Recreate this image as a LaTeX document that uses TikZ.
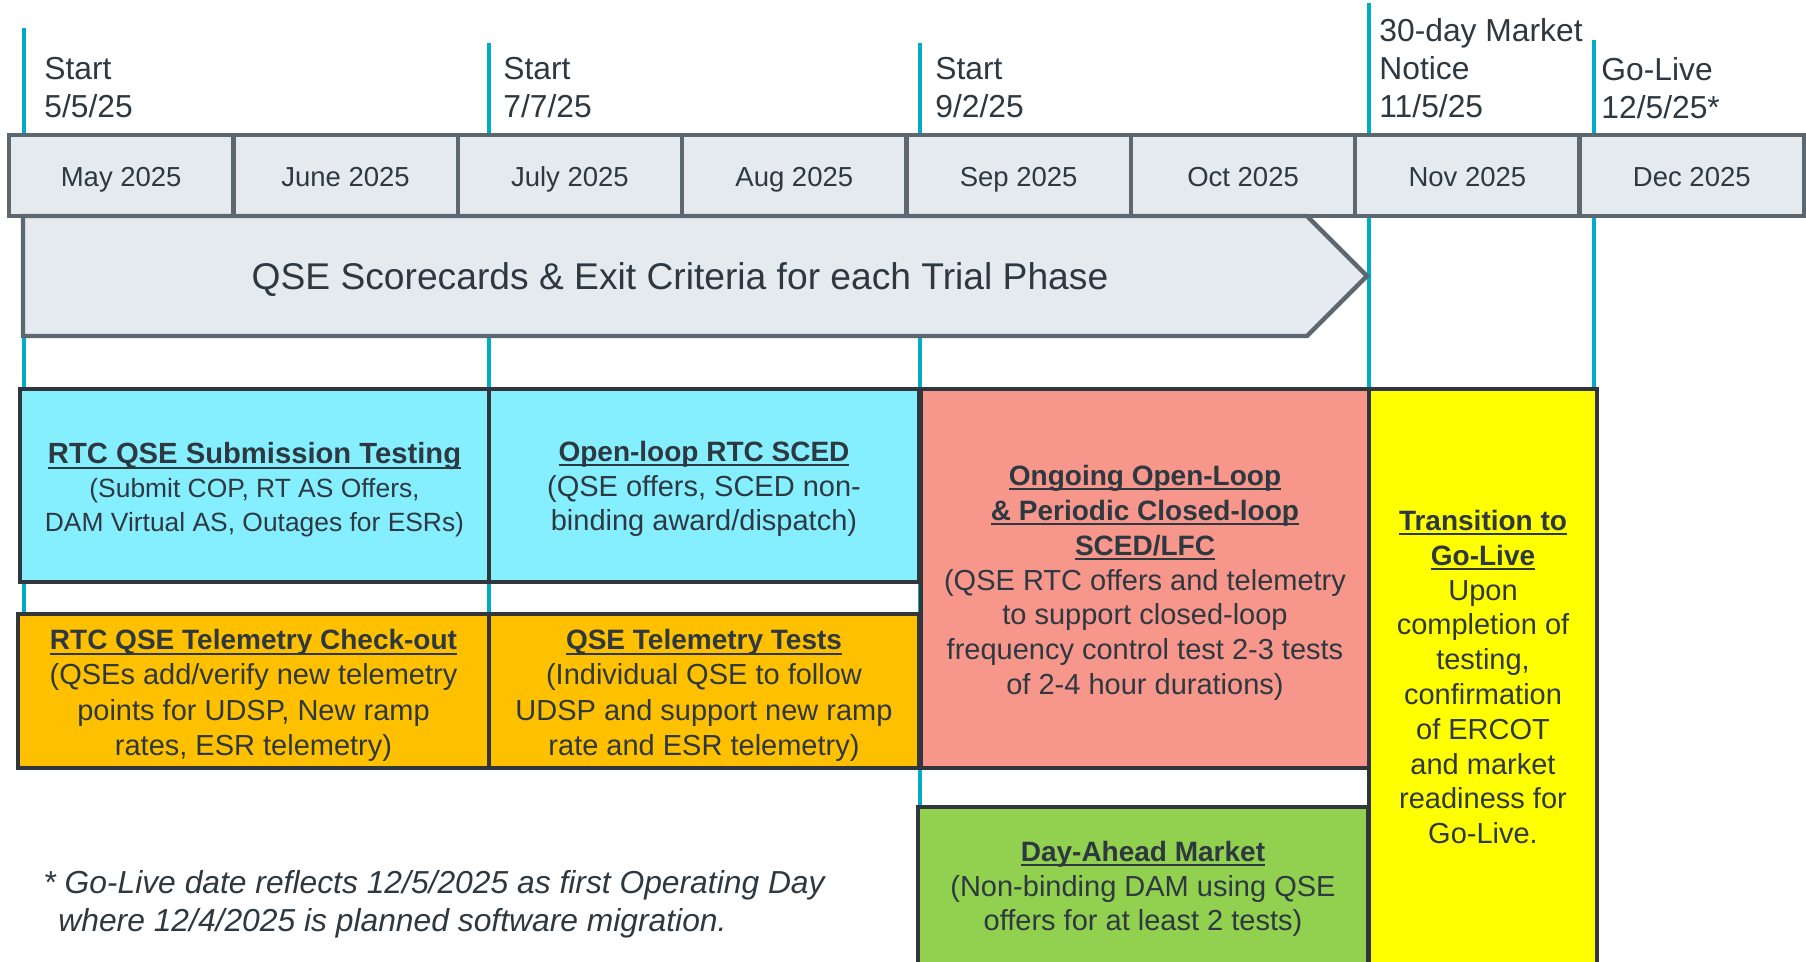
\documentclass[tikz,border=0pt]{standalone}
\usepackage{fontspec}
\setmainfont{Liberation Sans}
\definecolor{tealline}{HTML}{00ADC8}
\definecolor{monthfill}{HTML}{E5EAEF}
\definecolor{monthline}{HTML}{5D6770}
\definecolor{txt}{HTML}{2E3840}
\definecolor{boxline}{HTML}{30363B}
\definecolor{cyanbox}{HTML}{86EFFF}
\definecolor{orangebox}{HTML}{FFC000}
\definecolor{salmonbox}{HTML}{F7968B}
\definecolor{greenbox}{HTML}{92D050}
\definecolor{yellowbox}{HTML}{FFFF00}
\newcommand{\myul}[1]{\setbox0=\hbox{#1}\rlap{\rule[-2.4pt]{\wd0}{1pt}}\box0}
\tikzset{
  vline/.style={draw=tealline, line width=2.2pt},
  month/.style={draw=monthline, fill=monthfill, line width=2.2pt, minimum width=112.19pt, minimum height=40.5pt, inner sep=0pt, text height=10pt, text depth=3pt, text=txt, font=\fontsize{13.75}{16}\selectfont},
  hdr/.style={anchor=north west, inner sep=0pt, align=left, text=txt, font=\fontsize{15.9}{19}\selectfont},
  phase/.style={draw=boxline, line width=2pt, inner sep=0pt},
  phasetext/.style={align=center, inner sep=0pt, text=txt, font=\fontsize{14.5}{17.4}\selectfont},
}
\newcommand{\phttl}[1]{\myul{\bfseries\fontsize{14}{17.4}\selectfont #1}}
\begin{document}
\begin{tikzpicture}[x=0.5pt,y=-0.5pt]
\useasboundingbox (0,0) rectangle (1806,962);
\fill[white] (0,0) rectangle (1806,962);

% milestone lines
\draw[vline] (24,28) -- (24,614);
\draw[vline] (489,43) -- (489,614);
\draw[vline] (920,43) -- (920,807);
\draw[vline] (1369,3) -- (1369,389);
\draw[vline] (1594,40) -- (1594,389);

% month bar
\foreach \i/\m in {0/May 2025,1/June 2025,2/July 2025,3/Aug 2025,4/Sep 2025,5/Oct 2025,6/Nov 2025,7/Dec 2025}
  \node[month] (m\i) at ({121.19+224.375*\i},175.5) {\raisebox{-1.8pt}{\m}};

% scorecard arrow
\draw[draw=monthline, fill=monthfill, line width=2.2pt, line join=miter]
  (23,216) -- (1307,216) -- (1367,276) -- (1307,336) -- (23,336) -- cycle;
\node[text=txt, font=\fontsize{18.6}{22}\selectfont, inner sep=0pt, text height=13pt, text depth=4pt] (score) at (680,281) {QSE Scorecards \& Exit Criteria for each Trial Phase};

% milestone labels
\node[hdr] (h1) at (44,57) {Start\\5/5/25};
\node[hdr] (h2) at (503,57) {Start\\7/7/25};
\node[hdr] (h3) at (935,57) {Start\\9/2/25};
\node[hdr] (h4) at (1379,18) {30-day Market\\Notice\\11/5/25};
\node[hdr] (h5) at (1601,57) {Go-Live\\12/5/25*};

% phase boxes
\node[phase, fill=cyanbox, minimum width=234.5pt, minimum height=96.5pt] (rtcsub) at (254.5,485.5) {};
\node[phase, fill=cyanbox, minimum width=215pt, minimum height=96.5pt] (openloop) at (704,485.5) {};
\node[phase, fill=orangebox, minimum width=235.5pt, minimum height=77pt] (telcheck) at (253.5,691) {};
\node[phase, fill=orangebox, minimum width=215pt, minimum height=77pt] (teltest) at (704,691) {};
\node[phase, fill=salmonbox, minimum width=224pt, minimum height=189.5pt] (ongoing) at (1145,578.5) {};
\node[phase, fill=greenbox, minimum width=225pt, minimum height=79pt] (dam) at (1143,885.5) {};
\node[phase, fill=yellowbox, minimum width=114pt, minimum height=288pt] (golive) at (1483,677) {};

% phase texts
\node[phasetext, font=\fontsize{13.2}{16.9}\selectfont] (rtcsubtxt) at ([yshift=-2.2pt]rtcsub.center)
  {\myul{\bfseries\fontsize{14.6}{16.9}\selectfont RTC QSE Submission Testing}\\(Submit COP, RT AS Offers,\\DAM Virtual AS, Outages for ESRs)};
\node[phasetext] (openlooptxt) at ([yshift=-1.7pt]openloop.center)
  {\phttl{Open-loop RTC SCED}\\(QSE offers, SCED non-\\binding award/dispatch)};
\node[phasetext, font=\fontsize{14.5}{17.6}\selectfont] (telchecktxt) at ([yshift=-2.2pt]telcheck.center)
  {\phttl{RTC QSE Telemetry Check-out}\\(QSEs add/verify new telemetry\\points for UDSP, New ramp\\rates, ESR telemetry)};
\node[phasetext, font=\fontsize{14.5}{17.6}\selectfont] (teltesttxt) at ([yshift=-2.2pt]teltest.center)
  {\phttl{QSE Telemetry Tests}\\(Individual QSE to follow\\UDSP and support new ramp\\rate and ESR telemetry)};
\node[phasetext] (ongoingtxt) at ([yshift=-2.2pt]ongoing.center)
  {\phttl{Ongoing Open-Loop}\\\phttl{\& Periodic Closed-loop}\\\phttl{SCED/LFC}\\(QSE RTC offers and telemetry\\to support closed-loop\\frequency control test 2-3 tests\\of 2-4 hour durations)};
\node[phasetext] (damtxt) at ([yshift=-1.7pt]dam.center)
  {\phttl{Day-Ahead Market}\\(Non-binding DAM using QSE\\offers for at least 2 tests)};
\node[phasetext] (golivetxt) at (golive.center)
  {\phttl{Transition to}\\\phttl{Go-Live}\\Upon\\completion of\\testing,\\confirmation\\of ERCOT\\and market\\readiness for\\Go-Live.};

% footnote
\node[anchor=north west, inner sep=0pt, align=left, text=txt, font=\itshape\fontsize{15.9}{19}\selectfont] (note) at (43,870)
  {* Go-Live date reflects 12/5/2025 as first Operating Day\\\hspace*{7.5pt}where 12/4/2025 is planned software migration.};
\end{tikzpicture}
\end{document}
